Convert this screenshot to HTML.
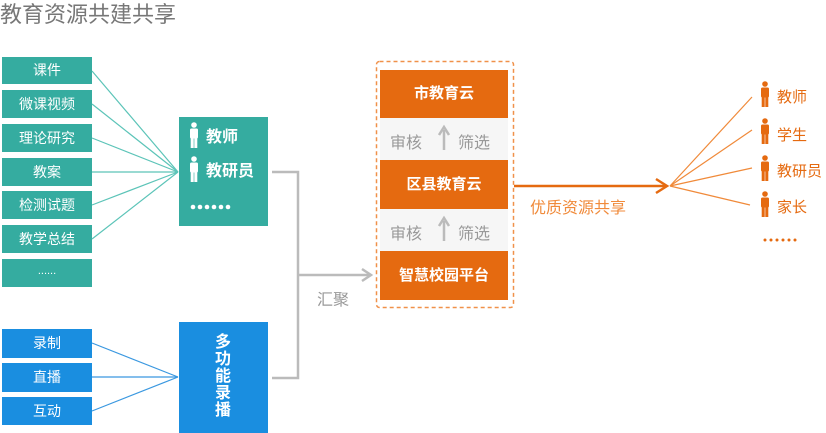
<!DOCTYPE html>
<html><head><meta charset="utf-8"><style>
body{margin:0;width:826px;height:433px;background:#fff;overflow:hidden;position:relative;font-family:"Liberation Sans","Noto Sans CJK SC",sans-serif}
.b{position:absolute;color:#fff;text-align:center;font-size:14px}
.t{background:#35aca0}.bl{background:#1a8ee0}.o{background:#e56a10;font-weight:bold;font-size:15px}
</style></head><body>
<div style="position:absolute;left:0;top:-3px;font-size:22px;color:#777">教育资源共建共享</div>
<div class="b t" style="left:2px;top:57px;width:90px;height:27px;line-height:27px">课件</div>
<div class="b t" style="left:2px;top:90px;width:90px;height:28px;line-height:28px">微课视频</div>
<div class="b t" style="left:2px;top:124px;width:90px;height:28px;line-height:28px">理论研究</div>
<div class="b t" style="left:2px;top:158px;width:90px;height:28px;line-height:28px">教案</div>
<div class="b t" style="left:2px;top:191px;width:90px;height:28px;line-height:28px">检测试题</div>
<div class="b t" style="left:2px;top:225px;width:90px;height:28px;line-height:28px">教学总结</div>
<div class="b t" style="left:2px;top:259px;width:90px;height:28px;line-height:24px;font-size:11px">......</div>
<div class="b t" style="left:179px;top:117px;width:89px;height:109px"></div>
<div class="b bl" style="left:2px;top:329px;width:90px;height:29px;line-height:29px">录制</div>
<div class="b bl" style="left:2px;top:363px;width:90px;height:29px;line-height:29px">直播</div>
<div class="b bl" style="left:2px;top:397px;width:90px;height:28px;line-height:28px">互动</div>
<div class="b bl" style="left:179px;top:322px;width:89px;height:111px"></div>
<div class="b" style="left:213px;top:334px;width:20px;font-size:16px;font-weight:bold;line-height:17px">多<br>功<br>能<br>录<br>播</div>
<div style="position:absolute;left:380px;top:118px;width:128px;height:134px;background:#f6f6f6"></div>
<div class="b o" style="left:380px;top:70px;width:128px;height:48px;line-height:48px">市教育云</div>
<div class="b o" style="left:380px;top:160px;width:128px;height:49px;line-height:49px">区县教育云</div>
<div class="b o" style="left:380px;top:251px;width:128px;height:49px;line-height:49px">智慧校园平台</div>
<div style="position:absolute;left:390px;top:129px;font-size:16px;color:#999">审核</div>
<div style="position:absolute;left:458px;top:129px;font-size:16px;color:#999">筛选</div>
<div style="position:absolute;left:390px;top:220px;font-size:16px;color:#999">审核</div>
<div style="position:absolute;left:458px;top:220px;font-size:16px;color:#999">筛选</div>
<div style="position:absolute;left:317px;top:286px;font-size:16px;color:#999">汇聚</div>
<div style="position:absolute;left:530px;top:194px;font-size:16px;color:#f08a3a">优质资源共享</div>
<div style="position:absolute;left:206px;top:123px;font-size:16px;font-weight:bold;color:#fff">教师</div>
<div style="position:absolute;left:206px;top:157px;font-size:16px;font-weight:bold;color:#fff">教研员</div>
<div style="position:absolute;left:777px;top:86px;font-size:15px;color:#e56a10">教师</div>
<div style="position:absolute;left:777px;top:124px;font-size:15px;color:#e56a10">学生</div>
<div style="position:absolute;left:777px;top:160px;font-size:15px;color:#e56a10">教研员</div>
<div style="position:absolute;left:777px;top:196px;font-size:15px;color:#e56a10">家长</div>
<svg width="826" height="433" style="position:absolute;left:0;top:0">
<defs>
<g id="p"><circle cx="0" cy="-10" r="2.8"/><rect x="-4" y="-6.5" width="8" height="10" rx="1.5"/><rect x="-3.3" y="2" width="3" height="11"/><rect x="0.3" y="2" width="3" height="11"/></g>
</defs>
<rect x="376.5" y="61.5" width="137" height="246" rx="3" fill="none" stroke="#f0914a" stroke-width="1.5" stroke-dasharray="4,3"/>
<g stroke="#5cc4b8" stroke-width="1.2" fill="none">
<line x1="92" y1="71" x2="178" y2="172"/><line x1="92" y1="104" x2="178" y2="172"/><line x1="92" y1="138" x2="178" y2="172"/><line x1="92" y1="172" x2="178" y2="172"/><line x1="92" y1="205" x2="178" y2="172"/><line x1="92" y1="239" x2="178" y2="172"/>
</g>
<g stroke="#3a98e0" stroke-width="1.2"><line x1="92" y1="343" x2="178" y2="377"/><line x1="92" y1="377" x2="178" y2="377"/><line x1="92" y1="411" x2="178" y2="377"/></g>
<g stroke="#bbb" stroke-width="2.5" fill="none"><polyline points="272,172 298,172 298,378 272,378"/><line x1="298" y1="275" x2="370" y2="275"/><polyline points="362,269 371,275 362,281"/>
<line x1="444" y1="150" x2="444" y2="130"/><polyline points="439,135 444,127 449,135"/><line x1="444" y1="241" x2="444" y2="221"/><polyline points="439,226 444,218 449,226"/></g>
<g fill="#fff"><use href="#p" x="194" y="135"/><use href="#p" x="194" y="169"/>
<circle cx="193" cy="207" r="2.3"/><circle cx="200" cy="207" r="2.3"/><circle cx="207" cy="207" r="2.3"/><circle cx="214" cy="207" r="2.3"/><circle cx="221" cy="207" r="2.3"/><circle cx="228" cy="207" r="2.3"/></g>
<g stroke="#f08a3a" stroke-width="1.2"><line x1="670" y1="186" x2="752" y2="97"/><line x1="670" y1="186" x2="752" y2="130"/><line x1="670" y1="186" x2="752" y2="168"/><line x1="670" y1="186" x2="750" y2="205"/></g>
<g stroke="#e56a10" stroke-width="2.5" fill="none"><line x1="514" y1="186" x2="666" y2="186"/><polyline points="656,179 667,186 656,193"/></g>
<g fill="#e56a10"><use href="#p" x="765" y="94"/><use href="#p" x="765" y="131"/><use href="#p" x="765" y="168"/><use href="#p" x="765" y="204"/>
<circle cx="765" cy="240" r="1.5"/><circle cx="771" cy="240" r="1.5"/><circle cx="777" cy="240" r="1.5"/><circle cx="783" cy="240" r="1.5"/><circle cx="789" cy="240" r="1.5"/><circle cx="795" cy="240" r="1.5"/></g>
</svg>
</body></html>
